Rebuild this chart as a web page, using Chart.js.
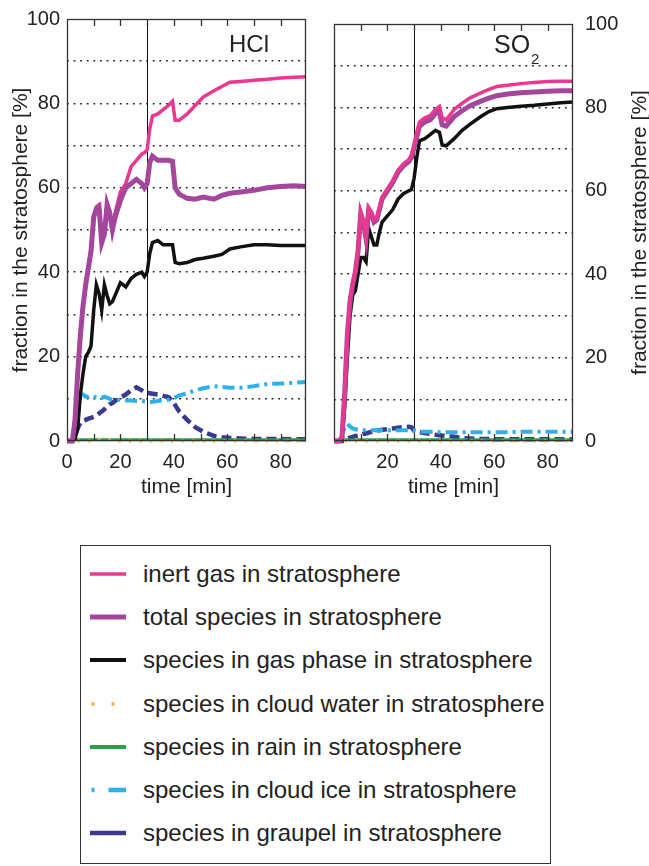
<!DOCTYPE html>
<html>
<head>
<meta charset="utf-8">
<title>Stratospheric fractions</title>
<script src="https://cdn.jsdelivr.net/npm/chart.js@4.4.1/dist/chart.umd.min.js"></script>
<style>
  body { margin: 0; background: #fff; width: 649px; height: 866px; position: relative; overflow: hidden;
         font-family: "Liberation Sans", Arial, sans-serif; }
  .panel { position: absolute; top: 0; height: 510px; }
  #hcl-wrap { left: 0; width: 320px; }
  #so2-wrap { left: 320px; width: 329px; }
  #legend { position: absolute; left: 80px; top: 545px; width: 469px; height: 317px; border: 1.5px solid #333; }
  .row { position: absolute; left: 9px; height: 30px; display: flex; align-items: center;
         font-size: 24px; color: #222; white-space: nowrap; }
  .row svg { width: 36px; height: 10px; margin-right: 17px; flex: none; }
</style>
</head>
<body>
<div class="panel" id="hcl-wrap"><canvas id="hcl-chart"></canvas></div>
<div class="panel" id="so2-wrap"><canvas id="so2-chart"></canvas></div>
<div id="legend"></div>

<script>
// time axis shared by both panels [min]
const minutes = [0, 2, 3, 4, 5, 6, 7, 8, 9, 10,
  11, 12, 13, 14, 15, 16, 17, 18,
  20, 22, 24, 26, 28,
  29, 30, 31, 32,
  34, 36, 38,
  39.5, 40.5,
  42, 45, 48, 51, 55, 58, 61, 65,
  70, 75, 80, 85, 89.5];

const seriesNames = [
  'inert gas in stratosphere',
  'total species in stratosphere',
  'species in gas phase in stratosphere',
  'species in cloud water in stratosphere',
  'species in rain in stratosphere',
  'species in cloud ice in stratosphere',
  'species in graupel in stratosphere'
];

// HCl panel [%]
const hclInert = [0, 0, 5.5, 16.5, 25.5, 32.5, 37.5, 41.5, 45.5, 53.5,
  55.5, 56, 47.5, 49.5, 56.5, 54.5, 50.5, 54,
  59, 61, 65, 66.5, 68,
  68.3, 69, 74, 77,
  77.5, 78.5, 79.5,
  80.5, 76,
  76, 77.5, 79.5, 81.5, 83, 84, 85, 85.2,
  85.5, 85.7, 86, 86.2, 86.3];
const hclTotal = [0, 0, 5, 16, 25, 32, 37, 41, 45, 53,
  55, 55.5, 47, 49, 56, 54, 50, 53,
  57, 60, 61, 62, 61,
  60, 61, 66, 67.5,
  66.5, 66.5, 66.5,
  66.3, 60,
  58.5, 57.5, 57.3, 57.8, 57.3, 58.2, 58.7, 59,
  59.4, 60, 60.3, 60.5, 60.3];
const hclGas = [0, 0, 0.5, 3, 11, 16, 20, 21, 22.5, 31,
  37, 35, 31, 37, 34.5, 32.5, 33, 34.5,
  37.5, 36.5, 38.5, 39.5, 40,
  39, 40, 44.5, 47,
  47.5, 46.5, 46.5,
  46.5, 42.3,
  42, 42.3, 43, 43.3, 43.8, 44.2, 45.5, 46,
  46.5, 46.5, 46.3, 46.3, 46.3];
const hclWater = [0, 0, 0, 0, 0, 0, 0, 0, 0, 0,
  0, 0.4, 0.6, 0.6, 0.5, 0.3, 0, 0,
  0, 0, 0, 0, 0,
  0, 0, 0, 0,
  0, 0, 0,
  0, 0,
  0, 0, 0, 0, 0, 0, 0, 0,
  0, 0, 0, 0, 0];
const hclRain = [0, 0, 0.3, 0.3, 0.3, 0.3, 0.3, 0.3, 0.3, 0.3,
  0.3, 0.3, 0.3, 0.3, 0.3, 0.3, 0.3, 0.3,
  0.3, 0.3, 0.3, 0.3, 0.3,
  0.3, 0.3, 0.3, 0.3,
  0.3, 0.3, 0.3,
  0.3, 0.3,
  0.3, 0.3, 0.3, 0.3, 0.3, 0.3, 0.3, 0.3,
  0.3, 0.3, 0.3, 0.3, 0.3];
const hclIce = [0, 0, 4, 9, 11, 11, 10.5, 10.5, 10.8, 10.5,
  10.3, 10.5, 10.2, 10.5, 10.3, 10, 9.8, 9.8,
  9.8, 9.6, 9.6, 9.5, 9.5,
  9.4, 9.3, 9.2, 9.3,
  9.5, 9.6, 9.8,
  10, 10.3,
  10.8, 11.3, 12, 12.5, 13, 12.8, 12.6, 12.6,
  13, 13.5, 13.6, 13.8, 14];
const hclGraupel = [0, 0, 1, 3, 4.3, 4.8, 5, 5.3, 5.5, 5.7,
  6, 6.5, 7, 7.5, 8.2, 8.7, 9, 9.5,
  10.3, 11, 12, 12.7, 12,
  11.6, 11.4, 11.3, 11.2,
  11, 10.7, 10.4,
  9.5, 8.5,
  7, 5, 3.3, 2.2, 1.2, 0.9, 0.7, 0.6,
  0.5, 0.5, 0.5, 0.4, 0.4];

// SO2 panel [%]
const so2Inert = [0, 0, 1, 12, 26, 34, 38, 41, 46, 55,
  53, 49, 56, 55, 53, 53.5, 56, 58.5,
  60.5, 62.5, 65, 66.5, 67.5,
  68.5, 71, 74, 76.5,
  77.5, 78, 79.5,
  80.2, 77.5,
  77, 79.5, 81, 82.3, 83.5, 84.3, 85, 85.3,
  85.7, 86, 86.2, 86.3, 86.3];
const so2Total = [0, 0, 1, 11.5, 25.5, 33.5, 37.5, 40.5, 45.5, 54.5,
  52.5, 48.5, 55.5, 54.5, 52.5, 53, 55.5, 58,
  60, 62, 64.5, 66, 67,
  68, 70.5, 73, 75.5,
  76.5, 77, 78.5,
  79, 75.8,
  75.5, 77.8, 79.2, 80.4, 81.5, 82.2, 82.8, 83.2,
  83.5, 83.7, 83.9, 84, 84];
const so2Gas = [0, 0, 0.5, 8, 20, 30, 35, 36, 40, 44,
  44, 43, 51, 49, 47, 47, 50, 52.5,
  54, 55.5, 58, 59.3, 60,
  60.3, 63, 68, 72,
  72.5, 73.5, 74.5,
  74, 71,
  70.8, 72.5, 74.5, 76, 77.8, 79, 79.7, 80,
  80.3, 80.5, 80.8, 81.1, 81.3];
const so2Water = [0, 0, 0, 0, 0, 0, 0, 0, 0, 0,
  0, 0, 0, 0, 0, 0, 0, 0,
  0, 0, 0, 0, 0,
  0, 0, 0, 0,
  0, 0, 0,
  0, 0,
  0, 0, 0, 0, 0, 0, 0, 0,
  0, 0, 0, 0, 0];
const so2Rain = [0, 0, 0.3, 0.3, 0.3, 0.3, 0.3, 0.3, 0.3, 0.3,
  0.3, 0.3, 0.3, 0.3, 0.3, 0.3, 0.3, 0.3,
  0.3, 0.3, 0.3, 0.3, 0.3,
  0.3, 0.3, 0.3, 0.3,
  0.3, 0.3, 0.3,
  0.3, 0.3,
  0.3, 0.3, 0.3, 0.3, 0.3, 0.3, 0.3, 0.3,
  0.3, 0.3, 0.3, 0.3, 0.3];
const so2Ice = [0, 0, 0.5, 3.5, 4, 3.5, 3, 2.8, 2.7, 2.6,
  2.6, 2.6, 2.6, 2.6, 2.6, 2.6, 2.6, 2.6,
  2.6, 2.6, 2.6, 2.6, 2.6,
  2.6, 2.5, 2.3, 2.2,
  2.2, 2.2, 2.2,
  2.1, 2.1,
  2.1, 2.1, 2.1, 2.1, 2.1, 2.1, 2.1, 2.1,
  2.2, 2.2, 2.2, 2.2, 2.2];
const so2Graupel = [0, 0, 0, 0, 0.5, 0.8, 1, 1.2, 1.3, 1.5,
  1.7, 1.8, 2, 2.2, 2.4, 2.5, 2.6, 2.7,
  2.8, 3, 3.2, 3.3, 3.4,
  3.3, 2.5, 2.2, 2.1,
  1.9, 1.7, 1.5,
  1.4, 1.3,
  1.2, 1, 0.7, 0.6, 0.5, 0.5, 0.4, 0.4,
  0.4, 0.4, 0.4, 0.4, 0.4];

const hclSeries = [hclInert, hclTotal, hclGas, hclWater, hclRain, hclIce, hclGraupel];
const so2Series = [so2Inert, so2Total, so2Gas, so2Water, so2Rain, so2Ice, so2Graupel];

// axis ticks
const hclTimeLabels = [0, 20, 40, 60, 80];
const so2TimeLabels = [20, 40, 60, 80];
const fractionTicks = [0, 10, 20, 30, 40, 50, 60, 70, 80, 90, 100];
const minuteTicks = [10, 20, 30, 40, 50, 60, 70, 80];
const markerTime = 30;
const yTitle = 'fraction in the stratosphere [%]';

// line styles, same order as seriesNames
const lineColors = ['#e8388f', '#a4479c', '#111111', '#f2b04c', '#27a24b', '#2db1ea', '#3b3a91'];
const lineWidths = [3.5, 5, 3.5, 3, 3, 4, 4.5];
const lineDashes = [[], [], [], [2.5, 8], [], [12, 5, 3, 5], [10, 5]];
const legendWidths = [3.5, 5, 4, 3.5, 4, 4.5, 4.5];
const legendDashes = ['', '', '', '3 17', '', '3 14 18 10', ''];

Chart.defaults.font.family = '"Liberation Sans", Arial, sans-serif';
Chart.defaults.color = '#222';

// frame, inward minute ticks, 30 min marker, panel label and y title
const panelDecor = {
  id: 'panelDecor',
  beforeDatasetsDraw(chart) {
    const { ctx, chartArea: a, scales: { x } } = chart;
    const xm = Math.round(x.getPixelForValue(markerTime)) + 0.5;
    ctx.save();
    ctx.strokeStyle = '#111';
    ctx.lineWidth = 1;
    ctx.beginPath();
    ctx.moveTo(xm, a.top);
    ctx.lineTo(xm, a.bottom);
    ctx.stroke();
    ctx.restore();
  },
  afterDatasetsDraw(chart, args, opts) {
    const { ctx, chartArea: a, scales: { x } } = chart;
    ctx.save();
    ctx.strokeStyle = '#333';
    ctx.lineWidth = 1.3;
    ctx.beginPath();
    minuteTicks.forEach(t => {
      const px = Math.round(x.getPixelForValue(t)) + 0.5;
      ctx.moveTo(px, a.top);
      ctx.lineTo(px, a.top + 7);
      ctx.moveTo(px, a.bottom);
      ctx.lineTo(px, a.bottom - 7);
    });
    ctx.stroke();
    ctx.strokeRect(Math.round(a.left) + 0.5, Math.round(a.top) + 0.5,
      Math.round(a.width) - 1, Math.round(a.height) - 1);

    ctx.fillStyle = '#222';
    ctx.textBaseline = 'alphabetic';
    ctx.textAlign = 'left';
    ctx.font = opts.label.size + 'px "Liberation Sans", Arial, sans-serif';
    ctx.fillText(opts.label.text, opts.label.x, opts.label.y);
    if (opts.label.sub) {
      const w = ctx.measureText(opts.label.text).width;
      ctx.font = '15px "Liberation Sans", Arial, sans-serif';
      ctx.fillText(opts.label.sub, opts.label.x + w + 1, opts.label.y + 11);
    }

    ctx.translate(opts.titleX, (a.top + a.bottom) / 2);
    ctx.rotate(-Math.PI / 2);
    ctx.textAlign = 'center';
    ctx.textBaseline = 'middle';
    ctx.font = '21px "Liberation Sans", Arial, sans-serif';
    ctx.fillText(yTitle, 0, 0);
    ctx.restore();
  }
};

function makeDatasets(values, order) {
  return values.map((vals, i) => ({
    label: seriesNames[i],
    data: minutes.map((t, k) => ({ x: t, y: vals[k] })),
    borderColor: lineColors[i],
    borderWidth: lineWidths[i],
    borderDash: lineDashes[i],
    pointRadius: 0,
    tension: 0,
    fill: false,
    clip: 6,
    order: order[i]
  }));
}

function makeChart(canvasId, values, opt) {
  return new Chart(document.getElementById(canvasId), {
    type: 'line',
    data: { datasets: makeDatasets(values, opt.order) },
    options: {
      responsive: true,
      maintainAspectRatio: false,
      animation: false,
      layout: { padding: opt.padding },
      plugins: {
        legend: { display: false },
        tooltip: { enabled: false },
        panelDecor: { label: opt.label, titleX: opt.titleX }
      },
      scales: {
        x: {
          type: 'linear',
          min: 0,
          max: 89.5,
          grid: { display: false, drawTicks: false },
          border: { display: false },
          afterBuildTicks: s => { s.ticks = opt.timeLabels.map(v => ({ value: v })); },
          ticks: {
            autoSkip: false,
            maxRotation: 0,
            padding: 9,
            font: { size: 20 }
          },
          title: {
            display: true,
            text: 'time [min]',
            font: { size: 21 },
            padding: { top: 0, bottom: 10 }
          },
          afterFit: s => { s.height = 69; }
        },
        y: {
          position: opt.yPos,
          min: 0,
          max: 100,
          afterBuildTicks: s => { s.ticks = fractionTicks.map(v => ({ value: v })); },
          grid: {
            drawTicks: false,
            lineWidth: 1.6,
            color: c => (c.tick.value === 0 || c.tick.value === 100) ? 'rgba(0,0,0,0)' : '#222'
          },
          border: { display: false, dash: [1.8, 4.8] },
          ticks: {
            autoSkip: false,
            padding: opt.yPad,
            font: { size: 20 },
            callback: v => v % 20 === 0 ? v : ''
          },
          afterFit: s => { s.width = opt.yWidth; }
        }
      }
    },
    plugins: [panelDecor]
  });
}

makeChart('hcl-chart', hclSeries, {
  order: [1, 0, 2, 3, 4, 5, 6],
  padding: { left: 0, right: 14, top: 13, bottom: 0 },
  timeLabels: hclTimeLabels,
  yPos: 'left',
  yWidth: 67,
  yPad: 7,
  titleX: 21,
  label: { text: 'HCl', size: 24, x: 229, y: 52 }
});

makeChart('so2-chart', so2Series, {
  order: [0, 1, 2, 3, 4, 5, 6],
  padding: { left: 14, right: 0, top: 13, bottom: 0 },
  timeLabels: so2TimeLabels,
  yPos: 'right',
  yWidth: 76,
  yPad: 12,
  titleX: 320,
  label: { text: 'SO', sub: '2', size: 25, x: 174, y: 53 }
});

// legend box below the panels
const legend = document.getElementById('legend');
seriesNames.forEach((name, i) => {
  const row = document.createElement('div');
  row.className = 'row';
  row.style.top = (13 + i * 43.2) + 'px';
  row.innerHTML =
    '<svg viewBox="0 0 36 10"><line x1="0" y1="5" x2="36" y2="5" stroke="' + lineColors[i] +
    '" stroke-width="' + legendWidths[i] + '"' +
    (legendDashes[i] ? ' stroke-dasharray="' + legendDashes[i] + '" stroke-dashoffset="-1.5"' : '') +
    '/></svg><span>' + name + '</span>';
  legend.appendChild(row);
});
</script>
</body>
</html>
